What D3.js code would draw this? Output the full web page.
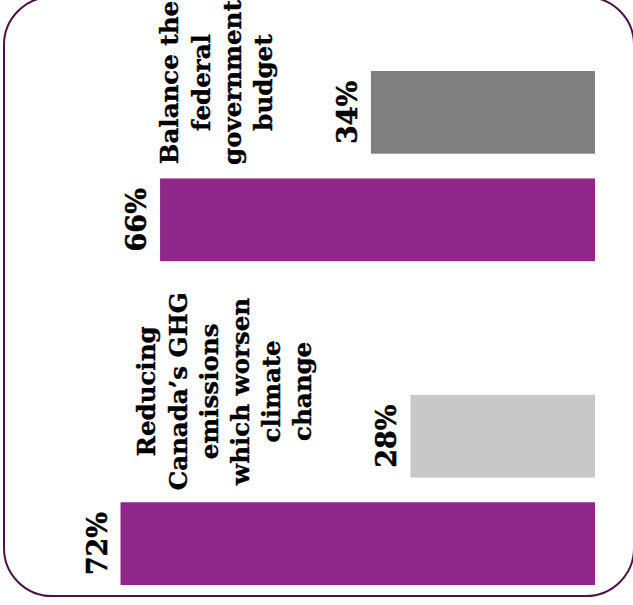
<!DOCTYPE html>
<html>
<head>
<meta charset="utf-8">
<script src="https://cdn.jsdelivr.net/npm/d3@7"></script>
<style>
  html, body { margin: 0; padding: 0; background: #fff; }
  svg { display: block; }
</style>
</head>
<body>
<svg id="chart" width="633" height="605"></svg>
<script>
// Issues, listed top to bottom
const categories = ["Balance the federal government budget", "Reducing Canada’s GHG emissions which worsen climate change"];
const categoryLines = [
  ["Balance the", "federal", "government", "budget"],
  ["Reducing", "Canada’s GHG", "emissions", "which worsen", "climate", "change"]
];
// Share choosing the issue (purple) vs. the other one (grey)
const chosenValues = [66, 72];
const otherValues = [34, 28];
const otherColors = ["#808080", "#c8c8c8"];
const chosenColor = "#8f278b";

const W = 633, H = 605;
const svg = d3.select("#chart");

// Rounded frame
svg.append("rect")
  .attr("x", 4).attr("y", -3)
  .attr("width", 630).attr("height", 599)
  .attr("rx", 48).attr("ry", 48)
  .attr("fill", "none")
  .attr("stroke", "#4a1245")
  .attr("stroke-width", 2);

// Bars grow leftward from a common baseline on the right
const x = d3.scaleLinear().domain([0, 100]).range([595, 595 - 659]);
const yGroup = d3.scaleBand().domain(categories).range([71, 585]).paddingInner(0.4127).paddingOuter(0);
const yInner = d3.scaleBand().domain(["other", "chosen"]).range([0, yGroup.bandwidth()]).paddingInner(0.23);

const rows = [];
categories.forEach((c, i) => {
  rows.push({ cat: c, key: "other", value: otherValues[i], color: otherColors[i] });
  rows.push({ cat: c, key: "chosen", value: chosenValues[i], color: chosenColor });
});

const bars = svg.append("g");
bars.selectAll("rect").data(rows).join("rect")
  .attr("x", d => x(d.value))
  .attr("y", d => yGroup(d.cat) + yInner(d.key))
  .attr("width", d => x(0) - x(d.value))
  .attr("height", yInner.bandwidth())
  .attr("fill", d => d.color);

const serif = "'DejaVu Serif', 'Liberation Serif', serif";

// Value labels, rotated, just beyond the bar ends
svg.append("g").selectAll("text").data(rows).join("text")
  .attr("transform", d => {
    const cx = x(d.value) - 14;
    const cy = yGroup(d.cat) + yInner(d.key) + yInner.bandwidth() / 2;
    return `translate(${cx},${cy}) rotate(-90)`;
  })
  .attr("text-anchor", "middle")
  .attr("font-family", serif)
  .attr("font-weight", "bold")
  .attr("font-size", 27)
  .attr("fill", "#000")
  .attr("stroke", "#000")
  .attr("stroke-width", 0.5)
  .text(d => d.value + "%");

// Category labels, stacked above the grey bar of each pair
const lineGap = 31.2;
const labelShift = [-83.5, -98.5];
categories.forEach((c, i) => {
  const lines = categoryLines[i];
  const lastBaseline = x(otherValues[i]) - 99;
  const cy = yGroup(c) + yGroup.bandwidth() / 2 + labelShift[i];
  const g = svg.append("g");
  g.selectAll("text").data(lines).join("text")
    .attr("transform", (d, j) => {
      const bx = lastBaseline - (lines.length - 1 - j) * lineGap;
      return `translate(${bx},${cy}) rotate(-90)`;
    })
    .attr("text-anchor", "middle")
    .attr("font-family", serif)
    .attr("font-weight", "bold")
    .attr("font-size", 24.5)
    .attr("fill", "#000")
    .attr("stroke", "#000")
    .attr("stroke-width", 0.4)
    .text(d => d);
});
</script>
</body>
</html>
